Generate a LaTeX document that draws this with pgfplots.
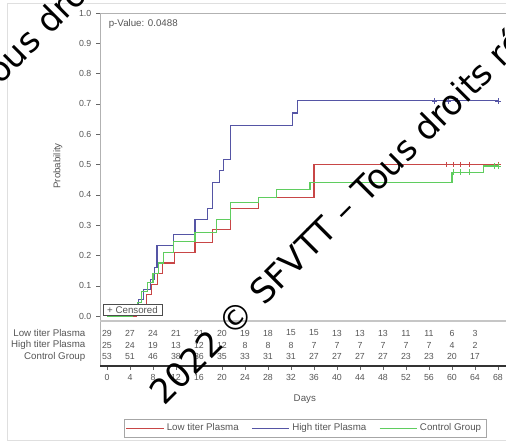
\documentclass[border=0pt]{standalone}
\usepackage{pgfplots}
\pgfplotsset{compat=1.18}
\usepackage{pgfplotstable}
\usepackage{fontspec}
\setmainfont{Liberation Sans}
\newfontfamily\wmfont{DejaVu Sans}

\definecolor{lowred}{RGB}{200,70,70}
\definecolor{highblue}{RGB}{85,85,165}
\definecolor{ctrlgreen}{RGB}{95,205,95}
\definecolor{txt}{RGB}{85,85,85}

% cumulative probability, step curves
\pgfplotstableread{
day p
0 0
5.2 0.035
6.8 0.07
7.8 0.105
8.8 0.14
9.6 0.175
11.8 0.21
15.3 0.244
18.4 0.284
21.4 0.355
26.3 0.39
36.0 0.50
68 0.50
}\lowtiter

\pgfplotstableread{
day p
0 0
4.5 0.022
5.5 0.053
6.3 0.086
7.5 0.12
8.3 0.16
8.7 0.234
11.5 0.27
15.3 0.317
17.4 0.356
18.4 0.44
19.5 0.48
20.3 0.515
21.4 0.63
32.3 0.67
33.2 0.71
68 0.71
}\hightiter

\pgfplotstableread{
day p
0 0
4.5 0.02
5.3 0.045
6.0 0.08
7.0 0.11
8.0 0.14
9.0 0.175
9.8 0.21
11.5 0.245
15.3 0.277
19.0 0.317
21.4 0.376
26.3 0.39
29.5 0.416
35.3 0.44
60.0 0.475
65.4 0.495
68 0.495
}\control

% number at risk
\pgfplotstableread{
day low high ctrl
0 29 25 53
4 27 24 51
8 24 19 46
12 21 13 38
16 21 12 36
20 20 12 35
24 19 8 33
28 18 8 31
32 15 8 31
36 15 7 27
40 13 7 27
44 13 7 27
48 13 7 27
52 11 7 23
56 11 7 23
60 6 4 20
64 3 2 17
}\risk

\newcommand{\chartfont}{\fontsize{6.6}{7.5}\selectfont}
\newcommand{\labelfont}{\fontsize{7.3}{8.5}\selectfont}

\begin{document}
\begin{tikzpicture}
\path[use as bounding box] (0,0) rectangle (379.5pt,332.25pt);
\begin{scope}[x=0.75pt,y=-0.75pt,shift={(0pt,332.25pt)}]
  \draw[gray!25] (7,3) rectangle (530,440);
\end{scope}

\begin{axis}[
  at={(75pt,57.75pt)}, anchor=south west,
  scale only axis, width=306pt, height=264.75pt,
  xmin=-1.217, xmax=69.74, ymin=-0.165, ymax=1.0,
  xtick={0,4,...,68},
  ytick={0,0.1,0.2,0.3,0.4,0.5,0.6,0.7,0.8,0.9,1.0},
  yticklabel style={/pgf/number format/.cd, fixed, fixed zerofill, precision=1},
  /pgf/number format/assume math mode=true,
  tick align=outside, major tick length=3pt, tick pos=left,
  axis line style={gray!60},
  tick style={black!60},
  ticklabel style={font=\chartfont, text=txt},
  xlabel={Days},
  xlabel style={at={(axis description cs:0.502,-0.0935)}, anchor=center, font=\labelfont, text=txt},
  ylabel={Probability},
  ylabel style={at={(axis description cs:-0.103,0.567)}, anchor=center, font=\labelfont, text=txt},
  legend columns=3,
  legend style={at={(axis description cs:0.502,-0.176)}, anchor=center,
    draw=gray!70, font=\labelfont, text=txt, inner sep=1.5pt,
    /tikz/every even column/.append style={column sep=7.5pt}},
  legend image code/.code={\draw[#1] (0cm,0cm) -- (0.98cm,0cm);},
  clip=false,
]

\addplot[const plot, lowred, line width=0.8pt] table[x=day, y=p] {\lowtiter};
\addlegendentry{Low titer Plasma}
\addplot[const plot, highblue, line width=0.8pt] table[x=day, y=p] {\hightiter};
\addlegendentry{High titer Plasma}
\addplot[const plot, ctrlgreen, line width=0.8pt] table[x=day, y=p] {\control};
\addlegendentry{Control Group}

% censored observations
\addplot[forget plot, only marks, mark=+, mark size=2pt, highblue] coordinates {(57,0.71) (59.3,0.71) (61,0.71) (68,0.71)};
\addplot[forget plot, only marks, mark=+, mark size=2pt, lowred] coordinates {(59,0.5) (60.3,0.5) (61.5,0.5) (63,0.5) (68,0.5)};
\addplot[forget plot, only marks, mark=+, mark size=2pt, ctrlgreen] coordinates {(60.3,0.475) (61.5,0.475) (63,0.475) (67.3,0.495) (68,0.495)};

% separator between curves and risk table
\draw[gray!45, line width=1.2pt] (axis cs:-1.217,-0.0165) -- (axis cs:69.74,-0.0165);
\draw[black!80, line width=0.8pt] (axis cs:-1.217,-0.165) -- (axis cs:69.74,-0.165);

% number at risk rows
\addplot[forget plot, draw=none, nodes near coords, point meta=explicit symbolic,
  every node near coord/.append style={anchor=center, font=\chartfont, text=txt}]
  table[x=day, y expr=-0.056, meta=low] {\risk};
\addplot[forget plot, draw=none, nodes near coords, point meta=explicit symbolic,
  every node near coord/.append style={anchor=center, font=\chartfont, text=txt}]
  table[x=day, y expr=-0.0957, meta=high] {\risk};
\addplot[forget plot, draw=none, nodes near coords, point meta=explicit symbolic,
  every node near coord/.append style={anchor=center, font=\chartfont, text=txt}]
  table[x=day, y expr=-0.135, meta=ctrl] {\risk};

\node[anchor=east, font=\labelfont, text=txt] at (axis description cs:-0.0245,0.0935) {Low titer Plasma};
\node[anchor=east, font=\labelfont, text=txt] at (axis description cs:-0.0245,0.0595) {High titer Plasma};
\node[anchor=east, font=\labelfont, text=txt] at (axis description cs:-0.0245,0.0255) {Control Group};

\node[anchor=north west, font=\labelfont, text=txt] at (axis cs:-0.5,0.995) {p-Value: 0.0488};
\node[anchor=west, draw=black!70, fill=white, font=\labelfont, text=txt, inner xsep=3pt, inner ysep=1.5pt]
  at (axis cs:-0.7,0.02) {+ Censored};
\end{axis}

\begin{scope}[x=0.75pt,y=-0.75pt,shift={(0pt,332.25pt)}]
  \node[anchor=base west, rotate=45, inner sep=0pt, font=\wmfont\fontsize{25.5}{28}\selectfont]
    at (164,407) {2022 © SFVTT – Tous droits réservés};
  \node[anchor=base west, rotate=45, inner sep=0pt, font=\wmfont\fontsize{25.5}{28}\selectfont]
    at (-213,299) {2022 © SFVTT – Tous droits réservés};
\end{scope}
\end{tikzpicture}
\end{document}
